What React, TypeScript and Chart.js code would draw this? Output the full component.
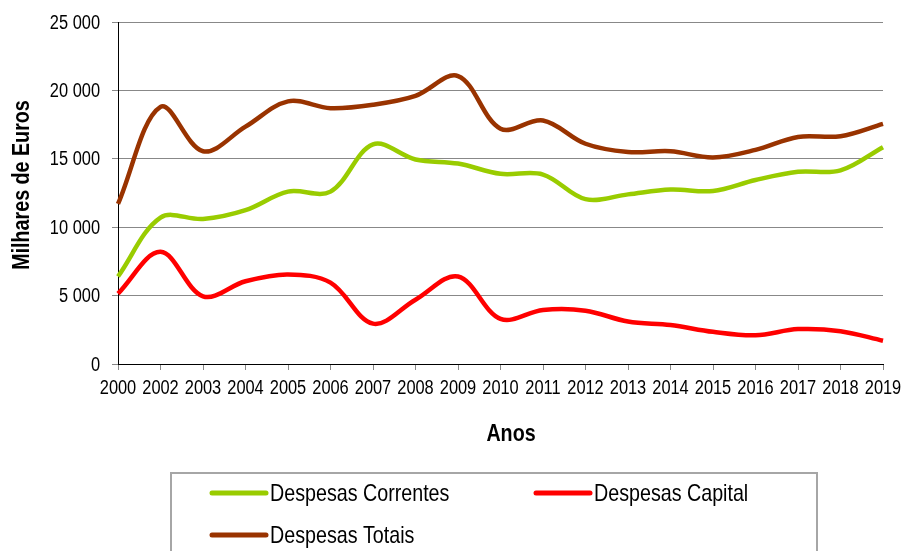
import React, { useEffect, useRef } from "react";
import { Chart, registerables } from "chart.js";

Chart.register(...registerables);

const years = ["2000", "2002", "2003", "2004", "2005", "2006", "2007", "2008", "2009", "2010", "2011", "2012", "2013", "2014", "2015", "2016", "2017", "2018", "2019"];
const correntes = [6400, 10700, 10600, 11250, 12600, 12600, 16050, 14950, 14650, 13900, 13850, 12050, 12400, 12750, 12650, 13450, 14050, 14150, 15850];
const capital = [5150, 8200, 4950, 6050, 6550, 5950, 2950, 4700, 6400, 3300, 3950, 3900, 3100, 2850, 2350, 2100, 2550, 2400, 1700];
const totais = [11700, 18800, 15550, 17350, 19200, 18700, 18950, 19600, 21050, 17200, 17800, 16100, 15500, 15550, 15100, 15650, 16600, 16650, 17550];
const seriesNames = ["Despesas Correntes", "Despesas Capital", "Despesas Totais"];
const yTitle = "Milhares de Euros";
const xTitle = "Anos";

const colors = ["#99CC00", "#FF0000", "#993300"];
const FONT = '"Liberation Sans", Arial, sans-serif';
const SX = 0.82; // narrow look

function fmt(v: number): string {
  return String(Math.round(v)).replace(/\B(?=(\d{3})+(?!\d))/g, " ");
}

function narrowText(ctx: CanvasRenderingContext2D, text: string, x: number, y: number, align: CanvasTextAlign) {
  ctx.save();
  ctx.translate(x, y);
  ctx.scale(SX, 1);
  ctx.textAlign = align;
  ctx.fillText(text, 0, 0);
  ctx.restore();
}

const overlay = {
  id: "overlay",
  afterDraw(chart: any) {
    const ctx = chart.ctx as CanvasRenderingContext2D;
    const area = chart.chartArea;
    const xs = chart.scales.x;
    const ys = chart.scales.y;
    ctx.save();
    ctx.fillStyle = "#000";
    ctx.textBaseline = "middle";

    // tick labels
    ctx.font = `20px ${FONT}`;
    xs.ticks.forEach((t: any, i: number) => {
      const lbl = String(xs.getLabelForValue(t.value));
      narrowText(ctx, lbl, xs.getPixelForTick(i), 388, "center");
    });
    ys.ticks.forEach((t: any, i: number) => {
      narrowText(ctx, fmt(t.value), 100, ys.getPixelForTick(i) + 1, "right");
    });

    // axis titles
    ctx.font = `bold 24px ${FONT}`;
    narrowText(ctx, xTitle, 511, 434, "center");
    ctx.save();
    ctx.translate(22, 185);
    ctx.rotate(-Math.PI / 2);
    narrowText(ctx, yTitle, 0, 0, "center");
    ctx.restore();

    // legend box
    ctx.strokeStyle = "#A6A6A6";
    ctx.lineWidth = 2;
    ctx.strokeRect(171, 473, 646, 120);

    const items = [
      { x: 212, y: 493, i: 0 },
      { x: 536, y: 493, i: 1 },
      { x: 212, y: 535, i: 2 },
    ];
    ctx.font = `24px ${FONT}`;
    ctx.lineCap = "round";
    for (const it of items) {
      ctx.strokeStyle = colors[it.i];
      ctx.lineWidth = 5;
      ctx.beginPath();
      ctx.moveTo(it.x, it.y);
      ctx.lineTo(it.x + 54, it.y);
      ctx.stroke();
      ctx.fillStyle = "#000";
      narrowText(ctx, seriesNames[it.i], it.x + 58, it.y + 1, "left");
    }
    ctx.restore();
  },
};

export default function App() {
  const ref = useRef<HTMLCanvasElement | null>(null);
  useEffect(() => {
    if (!ref.current) return;
    const series = [correntes, capital, totais];
    const chart = new Chart(ref.current, {
      type: "line",
      data: {
        labels: years,
        datasets: series.map((d, i) => ({
          label: seriesNames[i],
          data: d,
          borderColor: colors[i],
          backgroundColor: colors[i],
          borderWidth: 4.5,
          pointRadius: 0,
          tension: 0.35,
          fill: false,
        })),
      },
      options: {
        animation: false,
        responsive: false,
        devicePixelRatio: 1,
        layout: { padding: { top: 22, right: 21, bottom: 0, left: 0 } },
        plugins: {
          legend: { display: false },
          tooltip: { enabled: false },
        },
        scales: {
          x: {
            type: "category",
            offset: false,
            grid: { drawOnChartArea: false, drawTicks: true, tickLength: 6, color: "#888" },
            border: { color: "#000", width: 1 },
            ticks: { display: false, autoSkip: false, maxRotation: 0 },
            afterFit: (s: any) => { s.height = 187; },
          },
          y: {
            min: 0,
            max: 25000,
            grid: { color: "#888", tickLength: 6 },
            border: { color: "#000", width: 1 },
            ticks: { display: false, stepSize: 5000 },
            afterFit: (s: any) => { s.width = 118; },
          },
        },
      },
      plugins: [overlay],
    });
    return () => chart.destroy();
  }, []);
  return (
    <div style={{ position: "absolute", left: 0, top: 0, width: 904, height: 551, background: "#fff" }}>
      <canvas ref={ref} width={904} height={551} style={{ display: "block" }} />
    </div>
  );
}
